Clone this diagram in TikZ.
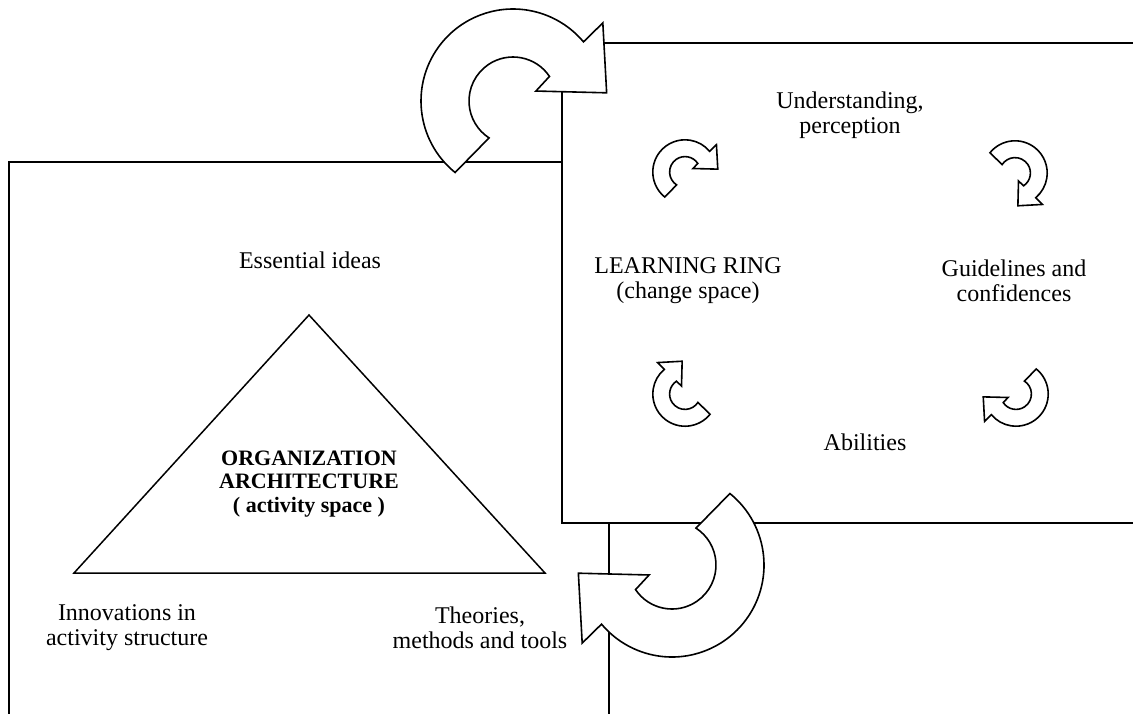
\documentclass[tikz,border=0pt]{standalone}
\usepackage{fontspec}
\setmainfont{Liberation Serif}

\begin{document}
\begin{tikzpicture}[x=0.5pt,y=-0.5pt,
  every node/.style={font=\fontsize{12}{12.4}\selectfont,align=center,inner sep=0pt},
  frame/.style={draw,line width=0.75pt},
  turn/.style={draw,fill=white,line width=0.8pt},
  pics/curl arrow/.style={code={
    \draw[turn] (129:92) arc[start angle=129,end angle=320,radius=92] -- (319:119) -- (355:94)
      -- (336.5:25) -- (326:44) arc[start angle=326,end angle=123,radius=44] -- cycle;
  }}]
  \useasboundingbox (0,0) rectangle (1133,713);
  % activity space
  \draw[frame] (9,740) -- (9,162) -- (609,162) -- (609,740);
  \draw[frame] (309,315) -- (74,573) -- (545,573) -- cycle;
  % change space
  \draw[frame,fill=white] (1160,43) -- (562,43) -- (562,523) -- (1160,523);
  % big arrows
  \pic at (513,101) {curl arrow};
  \pic[rotate=180] at (672,565) {curl arrow};
  % small arrows of the ring
  \pic[scale=0.35] at (685,172) {curl arrow};
  \pic[scale=0.35,rotate=-90] at (1015,173) {curl arrow};
  \pic[scale=0.35,rotate=180] at (1016,394) {curl arrow};
  \pic[scale=0.35,rotate=90] at (685,394) {curl arrow};
  % texts
  \node (understanding) at (850,115) {Understanding,\\perception};
  \node (ring) at (688,281) {LEARNING RING\\(change space)};
  \node (guidelines) at (1014,281) {Guidelines and\\confidences};
  \node (abilities) at (865,442) {Abilities};
  \node (ideas) at (310,260) {Essential ideas};
  \node[font=\fontsize{11}{11.8}\selectfont\bfseries] (architecture) at (309,484) {ORGANIZATION\\ARCHITECTURE\\( activity space )};
  \node (innovations) at (127,628) {Innovations in\\activity structure};
  \node (theories) at (480,628) {Theories,\\methods and tools};
\end{tikzpicture}
\end{document}
